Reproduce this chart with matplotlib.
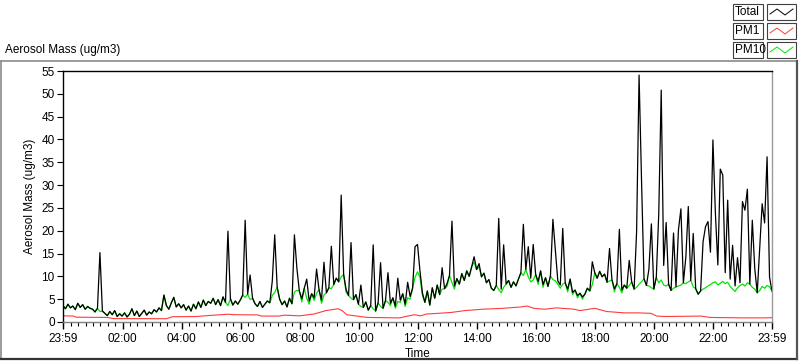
#!/usr/bin/env python3
"""Aerosol mass over one day: Total, PM1 and PM10 (LabVIEW style chart)."""

import matplotlib
matplotlib.use("Agg")
import matplotlib.pyplot as plt
from matplotlib.lines import Line2D
from matplotlib.patches import Rectangle
import numpy as np

plt.rcParams["font.family"] = ["Liberation Sans", "DejaVu Sans"]

# Samples every 5 minutes starting 23:59 (one row per hour)
sample_minutes = 5
total = [
    3.6, 2.9, 3.9, 3.1, 3.5, 2.7, 4.1, 3.2, 3.8, 2.8, 3.4, 3.0,
    2.8, 2.2, 3.0, 15.2, 2.4, 1.9, 1.4, 2.3, 1.6, 2.5, 1.2, 1.8,
    1.3, 2.0, 1.1, 1.7, 2.9, 1.4, 2.4, 1.2, 1.9, 2.6, 1.5, 2.2,
    1.8, 2.7, 2.2, 3.1, 2.5, 5.9, 3.6, 2.8, 4.2, 5.4, 3.3, 4.0,
    3.1, 3.8, 2.6, 3.5, 2.4, 3.9, 2.9, 4.4, 3.2, 4.8, 3.6, 4.5,
    4.1, 5.2, 3.8, 4.9, 3.6, 5.5, 4.3, 19.9, 5.1, 3.7, 4.6, 3.9,
    4.8, 5.9, 22.3, 6.1, 10.3, 5.2, 4.0, 3.4, 4.5, 3.2, 3.9, 4.6,
    4.2, 8.9, 19.1, 7.6, 5.0, 3.8, 4.6, 3.3, 5.2, 4.0, 19.1, 11.8,
    6.8, 5.1, 7.4, 9.4, 4.6, 6.2, 5.3, 11.6, 7.1, 4.8, 13.1, 6.4,
    7.5, 16.6, 8.2, 9.6, 8.8, 27.8, 10.4, 7.1, 5.8, 17.4, 4.9, 6.0,
    3.9, 8.1, 3.2, 4.4, 2.6, 3.6, 16.9, 2.4, 4.2, 13.0, 3.0, 4.7,
    10.8, 4.1, 5.3, 3.5, 9.6, 4.8, 6.2, 3.9, 8.7, 5.6, 7.4, 16.5,
    17.0, 11.2, 6.4, 4.3, 6.8, 3.7, 7.5, 5.2, 8.1, 6.0, 11.9, 7.3,
    8.4, 10.2, 22.1, 7.9, 9.5, 8.3, 10.6, 9.1, 11.2, 10.0, 12.1, 14.3,
    11.5, 12.8, 9.9, 10.7, 8.6, 9.3, 7.4, 6.9, 8.0, 22.7, 7.2, 16.9,
    8.3, 9.1, 7.6, 8.8, 7.9, 9.4, 10.8, 21.4, 11.5, 16.5, 9.6, 17.0,
    10.4, 8.9, 11.2, 8.2, 9.7, 7.8, 10.1, 22.5, 15.8, 9.0, 8.1, 20.5,
    8.6, 7.2, 9.4, 6.5, 7.0, 5.8, 6.3, 5.5, 6.1, 7.4, 6.8, 13.2,
    10.8, 9.6, 11.1, 9.9, 10.5, 8.7, 16.1, 9.2, 7.3, 8.4, 20.3, 7.0,
    8.1, 7.4, 13.5, 8.8, 7.2, 19.8, 54.1, 31.1, 9.5, 8.0, 11.6, 21.5,
    7.2, 9.8, 23.7, 50.8, 12.4, 21.8, 8.3, 6.9, 19.5, 7.7, 20.2, 24.8,
    8.6, 14.2, 25.3, 9.1, 19.4, 7.3, 6.1, 6.8, 17.6, 20.9, 22.0, 15.3,
    39.9, 23.9, 12.5, 33.5, 32.2, 10.8, 26.7, 9.4, 16.8, 7.9, 14.1, 8.6,
    26.4, 24.5, 29.1, 8.3, 22.3, 11.7, 6.4, 16.2, 25.9, 21.7, 36.2, 9.8,
    6.8,
]
pm10 = [
    3.6, 2.9, 3.9, 3.1, 3.5, 2.7, 4.1, 3.2, 3.8, 2.8, 3.4, 3.0,
    2.8, 2.2, 3.0, 2.3, 2.4, 1.9, 1.4, 2.3, 1.6, 2.5, 1.2, 1.8,
    1.3, 2.0, 1.1, 1.7, 2.9, 1.4, 2.4, 1.2, 1.9, 2.6, 1.5, 2.2,
    1.8, 2.7, 2.2, 3.1, 2.5, 5.9, 3.6, 2.8, 4.2, 5.4, 3.3, 4.0,
    3.1, 3.8, 2.6, 3.5, 2.4, 3.9, 2.9, 4.4, 3.2, 4.8, 3.6, 4.5,
    4.1, 5.2, 3.8, 4.9, 3.6, 5.5, 4.3, 3.6, 5.1, 3.7, 4.6, 3.9,
    4.8, 5.9, 5.4, 6.1, 4.9, 5.2, 4.0, 3.4, 4.5, 3.2, 3.9, 4.6,
    4.2, 5.8, 6.5, 7.6, 5.0, 3.8, 4.6, 3.3, 5.2, 4.0, 6.6, 6.9,
    6.8, 4.4, 7.4, 5.2, 3.9, 6.2, 4.7, 6.3, 7.1, 4.1, 5.9, 6.4,
    7.5, 7.3, 8.2, 9.6, 8.8, 9.9, 10.4, 6.5, 5.8, 5.2, 4.9, 6.0,
    3.9, 3.4, 3.2, 4.4, 2.6, 3.6, 2.9, 2.4, 4.2, 3.4, 3.0, 4.7,
    4.3, 3.6, 5.3, 3.0, 4.5, 4.3, 6.2, 3.4, 5.3, 5.0, 7.4, 9.8,
    11.0, 9.8, 5.8, 4.3, 6.8, 3.7, 7.5, 5.2, 8.1, 6.0, 7.2, 7.3,
    7.8, 10.2, 8.6, 7.2, 9.5, 8.3, 10.6, 9.1, 11.2, 10.0, 12.1, 13.1,
    11.5, 12.1, 9.9, 10.7, 8.6, 9.3, 7.4, 6.9, 8.0, 7.1, 6.4, 7.6,
    8.3, 9.1, 7.6, 8.8, 7.9, 9.4, 10.8, 10.2, 11.5, 9.9, 8.8, 9.2,
    10.4, 8.2, 11.2, 7.6, 9.7, 7.8, 10.1, 9.3, 9.0, 8.3, 7.4, 8.3,
    8.6, 6.6, 9.4, 6.0, 7.0, 5.3, 6.3, 5.0, 6.1, 7.4, 6.8, 8.2,
    10.8, 9.6, 11.1, 9.9, 10.5, 8.7, 9.0, 9.2, 6.6, 8.4, 7.6, 6.4,
    8.1, 7.4, 8.0, 8.8, 7.2, 7.6, 8.3, 8.8, 9.5, 8.0, 7.9, 7.5,
    7.2, 9.8, 8.6, 9.2, 8.1, 7.9, 8.3, 6.9, 7.4, 7.7, 7.9, 8.1,
    8.6, 8.4, 8.8, 9.1, 7.7, 7.3, 6.1, 6.8, 7.2, 7.5, 7.9, 8.2,
    8.6, 8.8, 8.1, 8.5, 8.9, 8.4, 8.7, 7.8, 7.2, 6.7, 7.5, 8.0,
    8.3, 7.9, 8.6, 8.3, 7.6, 7.2, 6.4, 6.9, 7.8, 7.4, 8.0, 7.7,
    6.8,
]

# PM1 is smooth: read as (hours after 23:59, value) breakpoints
pm1_hours = [0, 0.35, 0.45, 1.5, 1.7, 3.5, 3.7, 4.5, 5.0, 5.6, 5.8, 6.6, 6.7,
             7.3, 7.5, 8.0, 8.5, 8.9, 9.3, 9.45, 9.6, 9.95, 10.3, 11.4, 11.6,
             11.9, 12.1, 12.3, 12.7, 13.15, 13.6, 14.2, 14.9, 15.5, 15.7,
             15.95, 16.3, 16.7, 17.3, 17.5, 18.0, 18.4, 19.0, 19.45, 19.9,
             20.1, 20.4, 21.6, 21.9, 23.0, 23.7, 24.0]
pm1_values = [1.35, 1.3, 1.05, 1.0, 0.75, 0.72, 1.15, 1.2, 1.45, 1.7, 1.6,
              1.55, 1.3, 1.3, 1.5, 1.35, 1.75, 2.5, 2.9, 2.5, 1.6, 1.3, 1.0,
              0.9, 1.2, 1.6, 1.35, 1.75, 1.9, 2.1, 2.5, 2.8, 3.0, 3.3, 3.5,
              3.0, 2.8, 3.1, 2.8, 2.5, 3.0, 2.3, 2.0, 2.0, 1.9, 1.3, 1.2,
              1.3, 1.0, 0.9, 0.9, 0.95]

tick_labels = ["23:59", "02:00", "04:00", "06:00", "08:00", "10:00", "12:00",
               "14:00", "16:00", "18:00", "20:00", "22:00", "23:59"]
y_ticks = [0, 5, 10, 15, 20, 25, 30, 35, 40, 45, 50, 55]
series_names = ["Total", "PM1", "PM10"]
series_colors = ["#000000", "#ff3b3b", "#00e600"]

W, H = 800, 361


def fx(px):
    return px / W


def fy(py):
    # pixel row from top -> figure fraction
    return 1 - py / H


def main():
    start_min = 23 * 60 + 59
    hours = np.arange(len(total)) * sample_minutes / 60.0

    def clock_to_h(label, last=False):
        hh, mm = label.split(":")
        m = (int(hh) * 60 + int(mm) - start_min) % 1440
        return 24.0 if (last and m == 0) else m / 60.0

    major = [clock_to_h(t, i == len(tick_labels) - 1) for i, t in enumerate(tick_labels)]
    minor = [((m - start_min) % 1440) / 60.0 for m in range(0, 1440, 15)]

    fig = plt.figure(figsize=(W / 100, H / 100), dpi=100)
    fig.patch.set_facecolor("white")
    ax = fig.add_axes([fx(63), fy(322), fx(772) - fx(63), fy(71) - fy(322)])

    ax.plot(hours, pm10, color=series_colors[2], lw=0.9)
    ax.plot(pm1_hours, pm1_values, color=series_colors[1], lw=0.8)
    ax.plot(hours, total, color=series_colors[0], lw=0.9)

    ax.set_xlim(0, 24)
    ax.set_ylim(0, 55)
    ax.set_yticks(y_ticks)
    ax.set_xticks(major)
    ax.set_xticklabels(tick_labels)
    ax.set_xticks(minor, minor=True)
    ax.tick_params(axis="y", direction="out", length=4, width=0.8, labelsize=8.5, pad=2)
    ax.tick_params(axis="x", which="major", direction="out", length=5, width=1,
                   labelsize=8.5, pad=3)
    ax.tick_params(axis="x", which="minor", direction="out", length=3, width=0.8)

    ax.spines["left"].set_color("black")
    ax.spines["top"].set_color("black")
    ax.spines["right"].set_color("#9a9a9a")
    ax.spines["bottom"].set_color("#808080")
    for s in ax.spines.values():
        s.set_linewidth(1)

    ax.set_ylabel("Aerosol Mass (ug/m3)", fontsize=8.5, labelpad=4)
    ax.set_xlabel("Time", fontsize=8.5, labelpad=2)

    # outer panel border
    def fline(x0, y0, x1, y1, color, lw):
        fig.add_artist(Line2D([fx(x0), fx(x1)], [fy(y0), fy(y1)], color=color,
                              lw=lw, transform=fig.transFigure))

    fline(0.5, 61, 797, 61, "#8a8a8a", 1.2)
    fline(0.5, 61, 0.5, 359, "#8a8a8a", 1.2)
    fline(0.5, 359, 797, 359, "#333333", 1.6)
    fline(797, 61, 797, 359, "#555555", 1.6)

    fig.text(fx(5), fy(50), "Aerosol Mass (ug/m3)", fontsize=8.5, va="center", ha="left")

    # legend: label box + line sample box per series
    rows = [4, 23, 42]
    for name, color, top in zip(series_names, series_colors, rows):
        fig.add_artist(Rectangle((fx(733), fy(top + 16)), fx(763) - fx(733),
                                 fy(top) - fy(top + 16), transform=fig.transFigure,
                                 facecolor="white", edgecolor="#404040", lw=0.8))
        fig.text(fx(735), fy(top + 8), name, fontsize=8.5, va="center", ha="left")
        fig.add_artist(Rectangle((fx(767), fy(top + 16)), fx(796) - fx(767),
                                 fy(top) - fy(top + 16), transform=fig.transFigure,
                                 facecolor="white", edgecolor="#404040", lw=0.8))
        xs = [770, 777, 785, 793]
        ys = [top + 10, top + 5, top + 11, top + 5]
        fig.add_artist(Line2D([fx(v) for v in xs], [fy(v) for v in ys], color=color,
                              lw=0.7, transform=fig.transFigure))

    fig.savefig("out.png", dpi=100)
    plt.close(fig)


if __name__ == "__main__":
    main()
